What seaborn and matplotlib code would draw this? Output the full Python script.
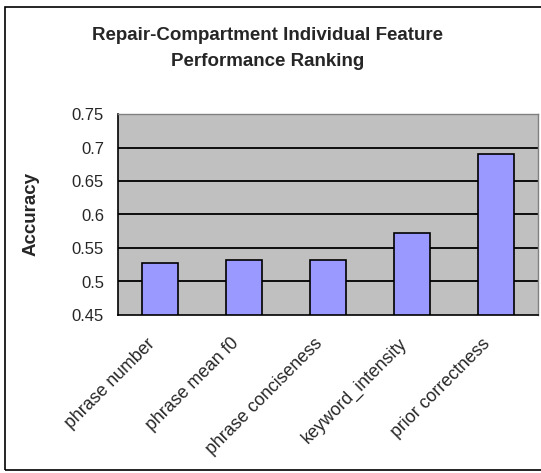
import matplotlib
matplotlib.use("Agg")
import matplotlib.pyplot as plt
import matplotlib.transforms as mtransforms
import seaborn as sns
import pandas as pd
from matplotlib.patches import Rectangle

features = ["phrase number", "phrase mean f0", "phrase conciseness",
            "keyword_intensity", "prior correctness"]
accuracy = [0.527, 0.532, 0.532, 0.572, 0.690]
y_ticks = [0.45, 0.5, 0.55, 0.6, 0.65, 0.7, 0.75]
y_tick_labels = ["0.45", "0.5", "0.55", "0.6", "0.65", "0.7", "0.75"]

df = pd.DataFrame({"feature": features, "accuracy": accuracy})

sns.set_style("white")
plt.rcParams["font.family"] = ["Liberation Sans", "DejaVu Sans"]

fig = plt.figure(figsize=(5.41, 4.73), dpi=100)
ax = fig.add_axes([118 / 541, 1 - 315 / 473, 420 / 541, 201 / 473])

ax.set_facecolor("#C0C0C0")
for y in y_ticks[1:-1]:
    ax.axhline(y, color="black", lw=1.3, zorder=1)

sns.barplot(data=df, x="feature", y="accuracy", ax=ax, color="#9999FF",
            saturation=1, width=0.42, edgecolor="black", linewidth=1.2,
            zorder=2)

ax.set_ylim(0.45, 0.75)
ax.set_xlim(-0.5, len(features) - 0.5)
ax.set_yticks(y_ticks)
ax.set_yticklabels(y_tick_labels, fontsize=12)
# ticks sit on the category boundaries
ax.set_xticks([i - 0.5 for i in range(len(features) + 1)])
ax.set_xticklabels([""] * (len(features) + 1))
ax.tick_params(axis="x", direction="out", length=5, width=1, color="black")
ax.tick_params(axis="y", direction="out", length=5, width=1, color="black", pad=5)

# rotated category names, anchored below each bar
offset = mtransforms.ScaledTranslation(-14 / 100, -20 / 100, fig.dpi_scale_trans)
for i, name in enumerate(features):
    ax.text(i, 0.45, name, rotation=45, ha="right", va="top",
            rotation_mode="anchor", fontsize=12.8, clip_on=False,
            transform=ax.transData + offset)

ax.set_xlabel("")
ax.set_ylabel("")
fig.text(31 / 541, 1 - 214 / 473, "Accuracy", rotation=90, ha="center",
         va="center", fontsize=13.5, fontweight="bold")

for side in ["top", "right"]:
    ax.spines[side].set_color("#808080")
    ax.spines[side].set_linewidth(1)
    ax.spines[side].set_visible(True)
for side in ["left", "bottom"]:
    ax.spines[side].set_color("black")
    ax.spines[side].set_linewidth(1.2)
    ax.spines[side].set_visible(True)

fig.text(268 / 541, 1 - 48.5 / 473, "Repair-Compartment Individual Feature\nPerformance Ranking",
         ha="center", va="center", fontsize=13.5, fontweight="bold",
         linespacing=1.7)

fig.patches.append(Rectangle((5 / 541, 1 - 470 / 473), 545 / 541, 463 / 473,
                             transform=fig.transFigure, fill=False,
                             edgecolor="black", lw=1.2))

fig.savefig("out.png", dpi=100)
